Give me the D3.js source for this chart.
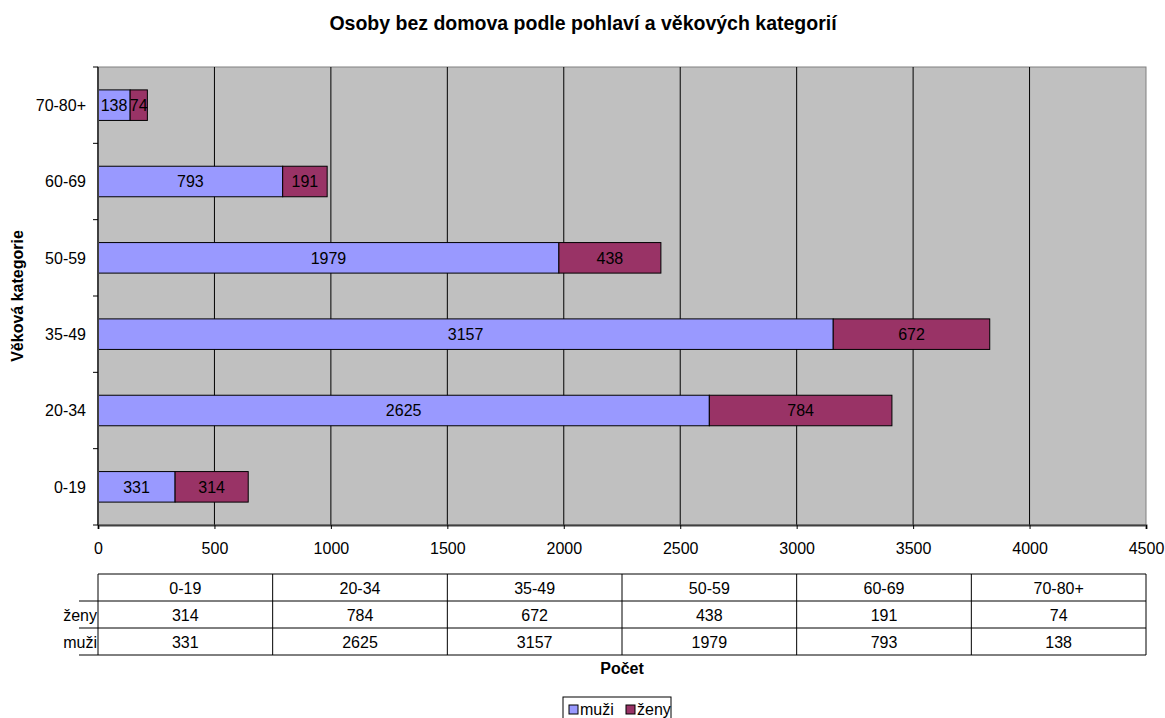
<!DOCTYPE html>
<html>
<head>
<meta charset="utf-8">
<script src="https://cdn.jsdelivr.net/npm/d3@7"></script>
<style>
  body { margin: 0; background: #fff; }
  svg { font-family: "Liberation Sans", Arial, sans-serif; }
</style>
</head>
<body>
<script>
/********************************************************/
// data
const categories = ["0-19", "20-34", "35-49", "50-59", "60-69", "70-80+"];
const muzi = [331, 2625, 3157, 1979, 793, 138];
const zeny = [314, 784, 672, 438, 191, 74];
const seriesNames = ["muži", "ženy"];
const seriesColors = ["#9999ff", "#993366"];
const xTicks = [0, 500, 1000, 1500, 2000, 2500, 3000, 3500, 4000, 4500];

/********************************************************/
const svgWidth = 1165;
const svgHeight = 718;
const plot = { left: 98, top: 67, right: 1146, bottom: 525 };
const fs = "16px";

const svg = d3.select("body").append("svg")
  .attr("width", svgWidth)
  .attr("height", svgHeight);

/************** scales ************/
const xScale = d3.scaleLinear().domain([0, 4500]).range([plot.left, plot.right]);
const yScale = d3.scaleBand()
  .domain(categories.slice().reverse())
  .range([plot.top, plot.bottom])
  .paddingInner(0.6)
  .paddingOuter(0.3);
const bandStep = (plot.bottom - plot.top) / categories.length;

/************** plot background & grid ************/
svg.append("rect")
  .attr("x", plot.left).attr("y", plot.top)
  .attr("width", plot.right - plot.left).attr("height", plot.bottom - plot.top)
  .attr("fill", "#c0c0c0")
  .attr("stroke", "#808080").attr("stroke-width", 1);

svg.append("g").selectAll("line")
  .data(xTicks.slice(1, -1))
  .enter().append("line")
  .attr("x1", d => xScale(d)).attr("x2", d => xScale(d))
  .attr("y1", plot.top).attr("y2", plot.bottom)
  .attr("stroke", "#000").attr("stroke-width", 1);

/************** bars ************/
const stacked = categories.map((c, i) => ({ cat: c, muzi: muzi[i], zeny: zeny[i] }));

const barGroup = svg.append("g");
stacked.forEach(d => {
  const y = yScale(d.cat), h = yScale.bandwidth();
  const segs = [
    { x0: 0, x1: d.muzi, v: d.muzi, color: seriesColors[0] },
    { x0: d.muzi, x1: d.muzi + d.zeny, v: d.zeny, color: seriesColors[1] }
  ];
  segs.forEach(s => {
    barGroup.append("rect")
      .attr("x", xScale(s.x0)).attr("y", y)
      .attr("width", xScale(s.x1) - xScale(s.x0)).attr("height", h)
      .attr("fill", s.color)
      .attr("stroke", "#000").attr("stroke-width", 1);
  });
  segs.forEach(s => {
    barGroup.append("text")
      .attr("x", (xScale(s.x0) + xScale(s.x1)) / 2)
      .attr("y", y + h / 2)
      .attr("dy", "0.36em")
      .attr("text-anchor", "middle")
      .attr("font-size", fs)
      .attr("fill", "#000")
      .text(s.v);
  });
});

/************** axes ************/
const bottomAxis = d3.axisBottom(xScale)
  .tickValues(xTicks)
  .tickFormat(d3.format("d"))
  .tickSize(4)
  .tickPadding(14);
svg.append("g")
  .attr("transform", `translate(0, ${plot.bottom})`)
  .call(bottomAxis)
  .call(g => g.select(".domain").attr("stroke", "#404040").attr("stroke-width", 2))
  .call(g => g.selectAll(".tick line").attr("stroke", "#000"))
  .call(g => g.selectAll(".tick text").attr("font-size", fs).attr("fill", "#000")
    .attr("font-family", "Liberation Sans, Arial, sans-serif"));

// left axis: line, ticks between categories, labels at band centres
const leftG = svg.append("g");
leftG.append("line")
  .attr("x1", plot.left).attr("x2", plot.left)
  .attr("y1", plot.top).attr("y2", plot.bottom)
  .attr("stroke", "#404040").attr("stroke-width", 2);
leftG.selectAll(".ytick")
  .data(d3.range(categories.length + 1))
  .enter().append("line")
  .attr("x1", plot.left - 5).attr("x2", plot.left)
  .attr("y1", i => plot.top + i * bandStep).attr("y2", i => plot.top + i * bandStep)
  .attr("stroke", "#000");
leftG.selectAll(".ylabel")
  .data(categories)
  .enter().append("text")
  .attr("x", plot.left - 12)
  .attr("y", d => yScale(d) + yScale.bandwidth() / 2)
  .attr("dy", "0.36em")
  .attr("text-anchor", "end")
  .attr("font-size", fs)
  .text(d => d);

/************** titles ************/
svg.append("text")
  .attr("x", 583).attr("y", 30)
  .attr("text-anchor", "middle")
  .attr("font-size", "19.5px").attr("font-weight", "bold")
  .text("Osoby bez domova podle pohlaví a věkových kategorií");

svg.append("text")
  .attr("transform", `translate(23, ${(plot.top + plot.bottom) / 2}) rotate(-90)`)
  .attr("text-anchor", "middle")
  .attr("font-size", fs).attr("font-weight", "bold")
  .text("Věková kategorie");

svg.append("text")
  .attr("x", 622).attr("y", 674)
  .attr("text-anchor", "middle")
  .attr("font-size", fs).attr("font-weight", "bold")
  .text("Počet");

/************** data table ************/
const tableTop = 574, rowH = 27;
const colW = (plot.right - plot.left) / categories.length;
const tbl = svg.append("g");
const rows = [
  { name: "ženy", values: zeny },
  { name: "muži", values: muzi }
];
// horizontal lines
tbl.append("line").attr("x1", plot.left).attr("x2", plot.right)
  .attr("y1", tableTop).attr("y2", tableTop).attr("stroke", "#000");
[1, 2, 3].forEach(r => {
  tbl.append("line").attr("x1", 79).attr("x2", plot.right)
    .attr("y1", tableTop + r * rowH).attr("y2", tableTop + r * rowH).attr("stroke", "#000");
});
// vertical lines
d3.range(categories.length + 1).forEach(i => {
  tbl.append("line")
    .attr("x1", plot.left + i * colW).attr("x2", plot.left + i * colW)
    .attr("y1", tableTop).attr("y2", tableTop + 3 * rowH).attr("stroke", "#000");
});
// header
categories.forEach((c, i) => {
  tbl.append("text")
    .attr("x", plot.left + (i + 0.5) * colW).attr("y", tableTop + rowH / 2)
    .attr("dy", "0.4em").attr("text-anchor", "middle").attr("font-size", fs)
    .text(c);
});
rows.forEach((row, r) => {
  const cy = tableTop + (r + 1.5) * rowH;
  tbl.append("text")
    .attr("x", plot.left - 1).attr("y", cy)
    .attr("dy", "0.4em").attr("text-anchor", "end").attr("font-size", fs)
    .text(row.name);
  row.values.forEach((v, i) => {
    tbl.append("text")
      .attr("x", plot.left + (i + 0.5) * colW).attr("y", cy)
      .attr("dy", "0.4em").attr("text-anchor", "middle").attr("font-size", fs)
      .text(v);
  });
});

/************** legend ************/
const legend = svg.append("g").attr("transform", "translate(563, 697)");
legend.append("rect")
  .attr("width", 108).attr("height", 24)
  .attr("fill", "#fff").attr("stroke", "#000");
const legendX = [6, 63];
seriesNames.forEach((n, i) => {
  const gx = legendX[i];
  legend.append("rect")
    .attr("x", gx).attr("y", 8).attr("width", 9).attr("height", 9)
    .attr("fill", seriesColors[i]).attr("stroke", "#000");
  legend.append("text")
    .attr("x", gx + 11).attr("y", 18)
    .attr("font-size", fs)
    .text(n);
});
</script>
</body>
</html>
